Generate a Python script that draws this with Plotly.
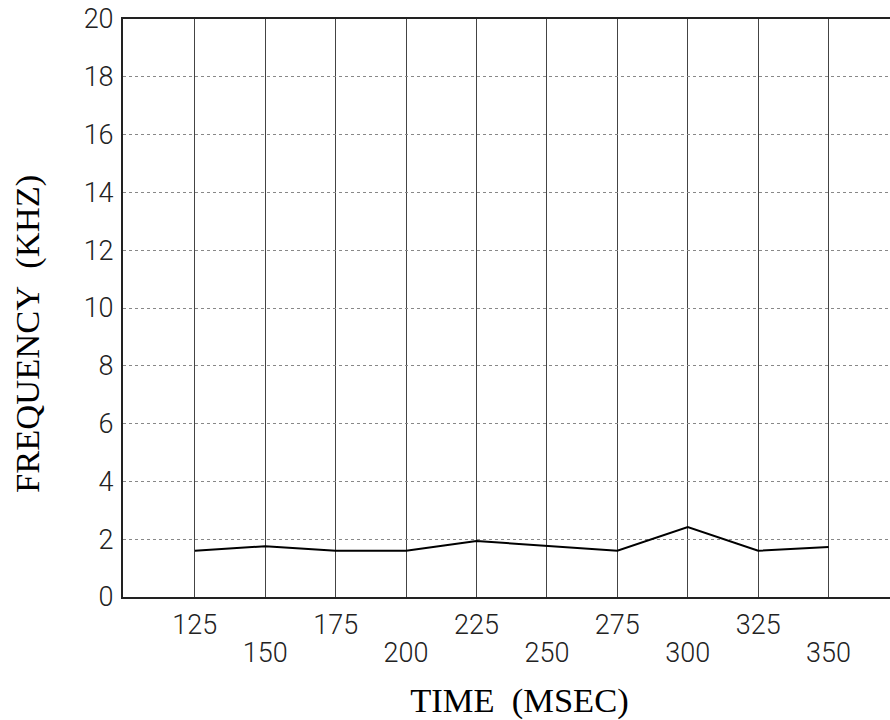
import plotly.graph_objects as go

time_ms = [125, 150, 175, 200, 225, 250, 275, 300, 325, 350]
freq_khz = [1.6, 1.76, 1.6, 1.6, 1.94, 1.76, 1.6, 2.42, 1.6, 1.73]
x_upper_ticks = [125, 175, 225, 275, 325]
x_lower_ticks = [150, 200, 250, 300, 350]
y_ticks = [0, 2, 4, 6, 8, 10, 12, 14, 16, 18, 20]

tick_font = dict(family="Roboto", size=27, color="#222222", weight=300)
title_font = dict(family="Liberation Serif", size=34.5, color="black")
NB = "\u00a0"
ZW = "\u200b"  # keeps the padding spaces from being trimmed

fig = go.Figure()
fig.add_trace(go.Scatter(x=time_ms, y=freq_khz, mode="lines",
                         line=dict(color="black", width=2), showlegend=False))
# invisible trace to anchor the secondary x-axis carrying the lower row of labels
fig.add_trace(go.Scatter(x=time_ms, y=freq_khz, mode="lines", xaxis="x2",
                         line=dict(color="rgba(0,0,0,0)", width=0),
                         showlegend=False, hoverinfo="skip"))

xrange = [99.5, 371.8]
fig.update_layout(
    width=890, height=720,
    margin=dict(l=123, r=0, t=19, b=123),
    paper_bgcolor="white", plot_bgcolor="white",
    xaxis=dict(
        range=xrange, tickmode="array", tickvals=time_ms,
        ticktext=[str(v) if v in x_upper_ticks else "" for v in time_ms],
        showgrid=True, gridcolor="#444444", gridwidth=1,
        showline=True, linecolor="#222222", linewidth=2, mirror=True,
        ticks="", tickfont=tick_font, ticklabelstandoff=3,
        zeroline=False, automargin=False, ticklabeloverflow="allow",
        title=dict(text=ZW + NB * 3 + "TIME" + NB + " (MSEC)", font=title_font, standoff=61),
    ),
    xaxis2=dict(
        range=xrange, overlaying="x", side="bottom", anchor="y",
        tickmode="array", tickvals=x_lower_ticks,
        ticktext=[str(v) for v in x_lower_ticks],
        showgrid=False, showline=False, ticks="", zeroline=False,
        tickfont=tick_font, ticklabelstandoff=37, automargin=False,
        ticklabeloverflow="allow",
    ),
    yaxis=dict(
        range=[0, 20], tickmode="array", tickvals=y_ticks,
        ticktext=[str(v) for v in y_ticks],
        showgrid=True, gridcolor="#888888", gridwidth=1, griddash="dot",
        showline=True, linecolor="#222222", linewidth=2,
        ticks="", tickfont=tick_font, ticklabelstandoff=2,
        zeroline=False, automargin=False, ticklabeloverflow="allow",
        title=dict(text="FREQUENCY" + NB + " (KHZ)" + NB * 6 + ZW, font=title_font, standoff=34),
    ),
)

fig.write_html(
    "out.html",
    config={"displayModeBar": False},
    post_script="document.body.style.margin='0px';document.body.style.overflow='hidden';",
)
